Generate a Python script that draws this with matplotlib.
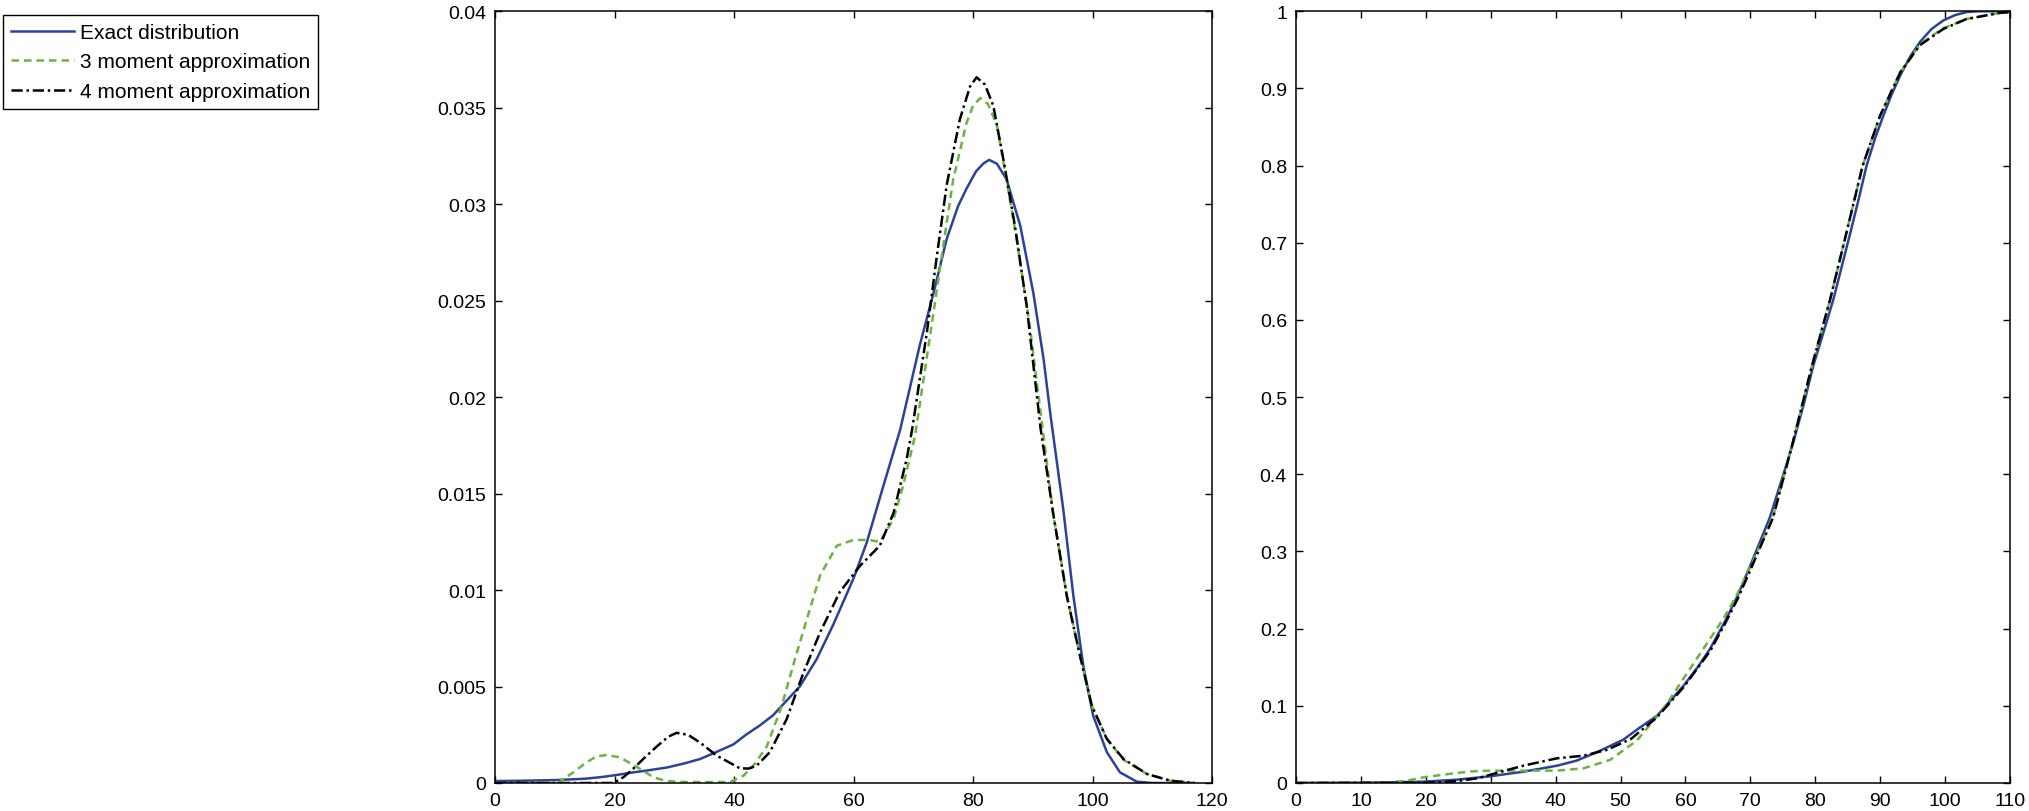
import matplotlib
matplotlib.use("Agg")
import matplotlib.pyplot as plt

plt.rcParams["font.family"] = ["Liberation Sans", "DejaVu Sans"]

# ---- left panel: densities ----
pdf_exact_x = [0, 5, 10, 15, 17.6, 20, 23.1, 25.5, 28.7, 31.5, 34.3, 37, 39.9, 42, 44.4, 46.5, 48.3,
               51, 53.8, 56.6, 60, 62.2, 65, 67.8, 71.1, 73.4, 75.6, 77.5, 78.9, 80.5, 81.7, 82.7, 84,
               85.6, 87.9, 90.1, 91.8, 93, 95.1, 96.8, 98.5, 100.1, 102.4, 104.6, 107.4, 110, 117]
pdf_exact_y = [0.0001, 0.00012, 0.00015, 0.00022, 0.0003, 0.0004, 0.00055, 0.00065, 0.0008, 0.001,
               0.00124, 0.0016, 0.002, 0.0025, 0.003, 0.0035, 0.0041, 0.005, 0.0064, 0.0082, 0.0106,
               0.01245, 0.0154, 0.0183, 0.0227, 0.0254, 0.0282, 0.0299, 0.0308, 0.0317, 0.0321, 0.0323,
               0.0321, 0.0313, 0.0289, 0.0254, 0.0220, 0.0190, 0.0142, 0.0097, 0.0060, 0.0035, 0.0016,
               0.00055, 0.00007, 0.0, 0.0]

pdf_m3_x = [0, 10.5, 13.1, 15.3, 17, 18.7, 20.9, 22.5, 24.3, 26.5, 28.7, 32, 39.3, 41.6, 43.5, 45.5,
            48, 49.9, 52.2, 54.4, 57.2, 60, 62.5, 64.4, 66.7, 68.3, 70.3, 73.4, 75, 76.7, 78.9, 80,
            81.2, 82.5, 84, 85.6, 87.3, 89.5, 91.8, 93.4, 95.7, 97.9, 99.9, 102.4, 105.2, 109.1, 113, 117]
pdf_m3_y = [0.0, 0.0, 0.00055, 0.00107, 0.00138, 0.00145, 0.00133, 0.00105, 0.00073, 0.0003, 0.0001,
            0.00005, 0.00005, 0.00038, 0.001, 0.0019, 0.004, 0.0061, 0.0085, 0.01075, 0.0123, 0.0126,
            0.0126, 0.0125, 0.01368, 0.0154, 0.018, 0.0244, 0.0278, 0.0313, 0.0342, 0.0351, 0.0355,
            0.0352, 0.0341, 0.0313, 0.0282, 0.0237, 0.018, 0.014, 0.0097, 0.0066, 0.004, 0.0023,
            0.0012, 0.00047, 0.00012, 0.0]

pdf_m4_x = [0, 19.8, 21.5, 23.1, 25, 27.1, 29, 30.4, 32.3, 34.3, 37.1, 39, 41, 42.5, 43.8, 46, 48.8,
            51.6, 54.4, 57.7, 61.1, 64.4, 66.7, 68.9, 69.8, 72.3, 73.9, 75.6, 77.8, 79.5, 80.6, 82,
            83.4, 85.1, 87, 89, 91.3, 93.4, 95.7, 97.9, 99.9, 102.4, 105.2, 109.1, 113, 117]
pdf_m4_y = [0.0, 0.0, 0.0003, 0.00073, 0.0013, 0.0019, 0.0024, 0.0026, 0.0025, 0.0021, 0.00142, 0.0011,
            0.00076, 0.00075, 0.0009, 0.0016, 0.0033, 0.0057, 0.0078, 0.0099, 0.01126, 0.0123, 0.014,
            0.0168, 0.0183, 0.0234, 0.0272, 0.031, 0.0344, 0.0361, 0.03658, 0.0362, 0.0351, 0.0323,
            0.0289, 0.0247, 0.0184, 0.014, 0.0097, 0.0066, 0.004, 0.00228, 0.00124, 0.00047, 0.00012, 0.0]

# ---- right panel: distribution functions ----
cdf_exact_x = [0, 10, 15, 19.6, 24.8, 29.9, 35, 40.2, 43.2, 46.3, 50.4, 53, 55.6, 57.5, 59.7, 61.8,
               63.8, 66, 68, 70, 73, 74.8, 76.6, 78.2, 79.7, 81.3, 82.8, 84.1, 85.4, 86.7, 87.9, 89.2,
               90.5, 91.8, 93.1, 94.6, 96.1, 97.9, 99.7, 101.5, 103.3, 105, 110]
cdf_exact_y = [0.0, 0.0005, 0.001, 0.0017, 0.0043, 0.0087, 0.0146, 0.0224, 0.0289, 0.0397, 0.056, 0.072,
               0.087, 0.105, 0.126, 0.149, 0.174, 0.208, 0.242, 0.282, 0.344, 0.392, 0.441, 0.49, 0.541,
               0.585, 0.627, 0.67, 0.713, 0.757, 0.8, 0.835, 0.865, 0.893, 0.917, 0.941, 0.96, 0.977,
               0.988, 0.995, 0.999, 1.0, 1.0]

cdf_m3_x = [0, 14, 17, 19.6, 22, 24.8, 27, 29.9, 35, 40.2, 44.3, 48.4, 52.5, 56.6, 60.7, 63.8, 66, 68,
            70, 73.5, 76.5, 79.5, 82.3, 84.8, 87.3, 90, 93.1, 96.1, 99.7, 103.3, 108.5, 110]
cdf_m3_y = [0.0, 0.0005, 0.003, 0.0073, 0.01, 0.013, 0.015, 0.016, 0.016, 0.016, 0.019, 0.03, 0.055,
            0.096, 0.148, 0.187, 0.215, 0.245, 0.28, 0.345, 0.44, 0.541, 0.627, 0.713, 0.8, 0.865,
            0.921, 0.957, 0.978, 0.99, 0.998, 0.999]

cdf_m4_x = [0, 20, 22, 24.3, 26, 27.9, 30.9, 35, 40.2, 44.3, 47.9, 51.6, 55.6, 59.7, 63.8, 66, 68, 70,
            73.5, 76.5, 79.5, 82.3, 84.8, 87.3, 90, 93.1, 96.1, 99.7, 103.3, 108.5, 110]
cdf_m4_y = [0.0, 0.0003, 0.0008, 0.002, 0.0038, 0.006, 0.013, 0.0224, 0.032, 0.0354, 0.043, 0.057,
            0.085, 0.124, 0.171, 0.205, 0.238, 0.276, 0.344, 0.44, 0.541, 0.627, 0.713, 0.8, 0.865,
            0.921, 0.956, 0.977, 0.99, 0.998, 0.999]

labels = ["Exact distribution", "3 moment approximation", "4 moment approximation"]
pdf_yticks = [0, 0.005, 0.01, 0.015, 0.02, 0.025, 0.03, 0.035, 0.04]
pdf_ylabels = ["0", "0.005", "0.01", "0.015", "0.02", "0.025", "0.03", "0.035", "0.04"]
cdf_yticks = [0, 0.1, 0.2, 0.3, 0.4, 0.5, 0.6, 0.7, 0.8, 0.9, 1]
cdf_ylabels = ["0", "0.1", "0.2", "0.3", "0.4", "0.5", "0.6", "0.7", "0.8", "0.9", "1"]

BLUE, GREEN = "#2c429a", "#6db33f"
DASH = (0, (3.0, 2.0))
DASHDOT = (0, (4.5, 1.5, 1, 1.5))
LW = 1.8

fig = plt.figure(figsize=(20.29, 8.12), dpi=100)
ax1 = fig.add_axes([495 / 2029, 28 / 812, 717 / 2029, 771.7 / 812])
ax2 = fig.add_axes([1296 / 2029, 28 / 812, 714 / 2029, 771.7 / 812])

h1, = ax1.plot(pdf_exact_x, pdf_exact_y, color=BLUE, lw=LW, ls="-")
h2, = ax1.plot(pdf_m3_x, pdf_m3_y, color=GREEN, lw=LW, ls=DASH)
h3, = ax1.plot(pdf_m4_x, pdf_m4_y, color="black", lw=LW, ls=DASHDOT)
ax1.set_xlim(0, 120)
ax1.set_ylim(0, 0.04)
ax1.set_xticks(range(0, 121, 20))
ax1.set_yticks(pdf_yticks)
ax1.set_yticklabels(pdf_ylabels)

ax2.plot(cdf_exact_x, cdf_exact_y, color=BLUE, lw=LW, ls="-")
ax2.plot(cdf_m3_x, cdf_m3_y, color=GREEN, lw=LW, ls=DASH)
ax2.plot(cdf_m4_x, cdf_m4_y, color="black", lw=LW, ls=DASHDOT)
ax2.set_xlim(0, 110)
ax2.set_ylim(0, 1)
ax2.set_xticks(range(0, 111, 10))
ax2.set_yticks(cdf_yticks)
ax2.set_yticklabels(cdf_ylabels)

for ax in (ax1, ax2):
    ax.tick_params(direction="in", top=True, right=True, length=5, width=1,
                   labelsize=14, pad=6.5, colors="black")
    for s in ax.spines.values():
        s.set_linewidth(1.1)

leg = fig.legend([h1, h2, h3], labels, loc="upper left",
                 bbox_to_anchor=(2.7 / 2029, 1 - 15.7 / 812), borderaxespad=0,
                 fontsize=15, frameon=True, fancybox=False, framealpha=1,
                 edgecolor="black", handlelength=3.0, handletextpad=0.3,
                 borderpad=0.4, labelspacing=0.5)
leg.get_frame().set_linewidth(1.0)

fig.savefig("out.png", dpi=100)
